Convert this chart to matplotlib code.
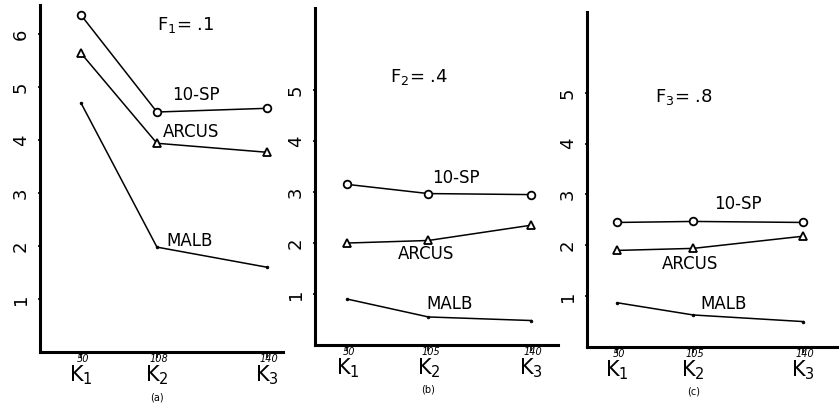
import matplotlib
matplotlib.use("Agg")
import matplotlib.pyplot as plt

W, H = 839, 409

# values
series = ["10-SP", "ARCUS", "MALB"]
k_labels = ["K$_1$", "K$_2$", "K$_3$"]
k_values = [["50", "108", "140"], ["50", "105", "140"], ["50", "105", "140"]]
f_labels = ["F$_1$= .1", "F$_2$= .4", "F$_3$= .8"]
sub_labels = ["(a)", "(b)", "(c)"]

sp10 = [[6.36, 4.53, 4.6], [3.15, 2.97, 2.95], [2.45, 2.47, 2.45]]
arcus = [[5.64, 3.94, 3.77], [2.0, 2.05, 2.35], [1.9, 1.94, 2.18]]
malb = [[4.7, 1.98, 1.6], [0.9, 0.55, 0.48], [0.87, 0.63, 0.5]]

# layout: axes box in pixels (left, top, right, bottom), x positions of K's
panels = [
    dict(box=(40, 5, 283, 352), xpos=[1, 2, 3.45], xlim=(0.46, 3.66), ytop=6.55, nt=6,
         ftxt=(2.0, 6.17), stxt=[(2.2, 4.68), (2.08, 3.98), (2.13, 1.93)]),
    dict(box=(315, 8, 558, 345), xpos=[1, 2, 3.27], xlim=(0.6, 3.6), ytop=6.61, nt=5,
         ftxt=(1.53, 5.25), stxt=[(2.04, 3.1), (1.62, 1.6), (1.98, 0.62)]),
    dict(box=(587, 12, 839, 347), xpos=[1, 2, 3.45], xlim=(0.6, 3.92), ytop=6.59, nt=5,
         ftxt=(1.49, 4.92), stxt=[(2.28, 2.63), (1.59, 1.45), (2.09, 0.66)]),
]

styles = [dict(marker="o", ms=5.5, mfc="white", mew=1.3),
          dict(marker="^", ms=6, mfc="white", mew=1.3),
          dict(marker=".", ms=4, mfc="black", mew=0.5)]

fig = plt.figure(figsize=(W / 100, H / 100), dpi=100)
fig.patch.set_facecolor("white")

for i, p in enumerate(panels):
    l, t, r, b = p["box"]
    ax = fig.add_axes([l / W, (H - b) / H, (r - l) / W, (b - t) / H])
    ax.set_xlim(*p["xlim"])
    ax.set_ylim(0, p["ytop"])
    for s in ["top", "right"]:
        ax.spines[s].set_visible(False)
    for s in ["left", "bottom"]:
        ax.spines[s].set_linewidth(2.2)

    for vals, st in zip([sp10[i], arcus[i], malb[i]], styles):
        ax.plot(p["xpos"], vals, color="black", lw=1.1, mec="black", **st)

    yt = list(range(1, p["nt"] + 1))
    ax.set_yticks(yt)
    ax.set_yticklabels([str(v) for v in yt], rotation=90, va="center", fontsize=13)
    ax.tick_params(axis="y", length=3, width=1.2, direction="inout", pad=6)

    ax.set_xticks(p["xpos"])
    ax.set_xticklabels(k_labels, fontsize=15)
    ax.tick_params(axis="x", length=4, width=1.2, direction="out", pad=4)

    for x, kv in zip(p["xpos"], k_values[i]):
        ax.annotate(kv, xy=(x, 0), xycoords=("data", "axes fraction"),
                    xytext=(2, -7), textcoords="offset pixels",
                    ha="center", va="center", fontsize=7, style="italic")
    ax.annotate(sub_labels[i], xy=(p["xpos"][1], 0), xycoords=("data", "axes fraction"),
                xytext=(0, -45), textcoords="offset pixels",
                ha="center", va="center", fontsize=7)

    ax.text(p["ftxt"][0], p["ftxt"][1], f_labels[i], fontsize=13, ha="left", va="center")
    for name, (tx, ty) in zip(series, p["stxt"]):
        ax.text(tx, ty, name, fontsize=12, ha="left", va="bottom")

fig.savefig("out.png", dpi=100)
